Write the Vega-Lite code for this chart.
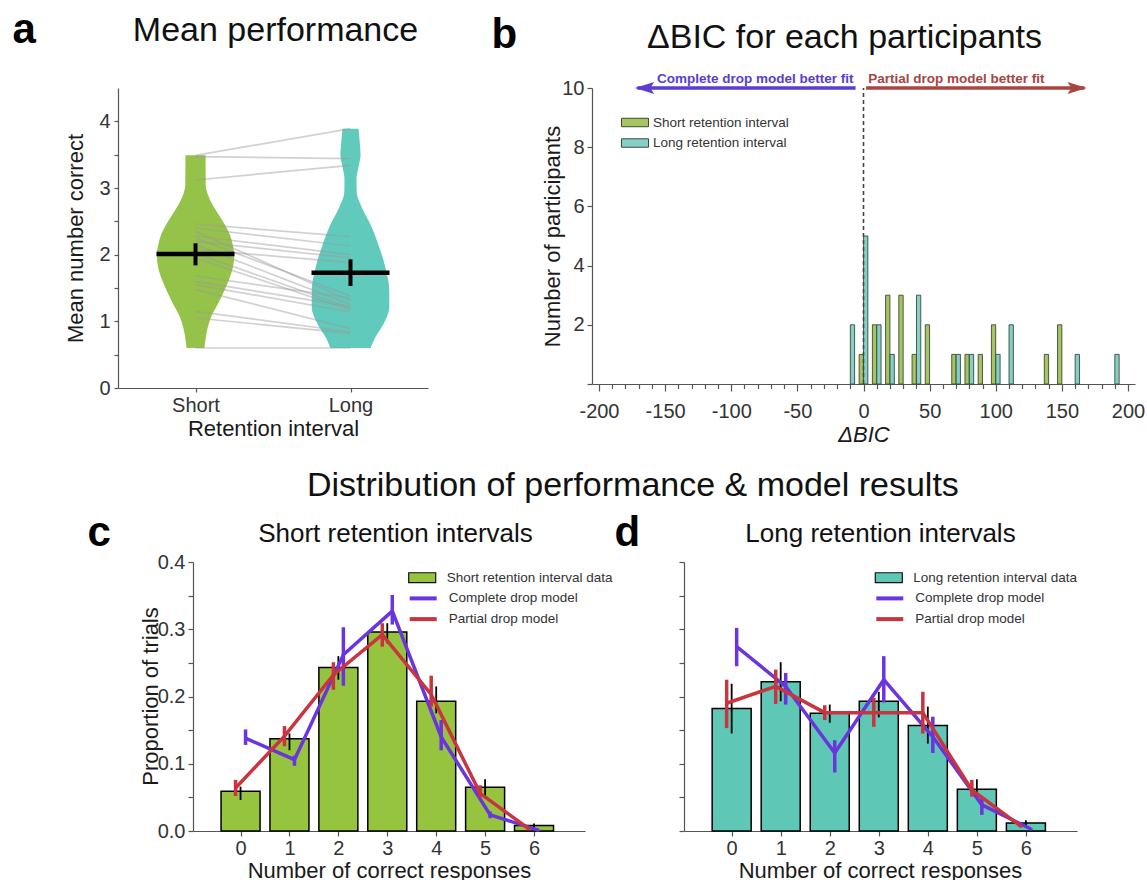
{
  "$schema": "https://vega.github.io/schema/vega-lite/v6.json",
  "background": "white",
  "padding": {"left": 12, "top": 8, "right": 5, "bottom": 5},
  "config": {
    "view": {"stroke": null},
    "font": "Liberation Sans",
    "axis": {"grid": false, "domainColor": "#555", "tickColor": "#555", "labelColor": "#333", "titleColor": "#1a1a1a", "labelFontSize": 20, "titleFontSize": 22, "titleFontWeight": "normal", "labelFont": "Liberation Sans", "titleFont": "Liberation Sans", "domainWidth": 1.2, "tickWidth": 1.2},
    "legend": {"labelFont": "Liberation Sans", "labelColor": "#333"},
    "title": {"font": "Liberation Sans", "fontWeight": "normal", "color": "#111"}
  },
  "datasets": {
    "violin": [
      {"g": "Short", "y": 0.6, "lo": -0.058, "hi": 0.058},
      {"g": "Short", "y": 0.81, "lo": -0.07, "hi": 0.07},
      {"g": "Short", "y": 1.06, "lo": -0.1, "hi": 0.1},
      {"g": "Short", "y": 1.31, "lo": -0.155, "hi": 0.155},
      {"g": "Short", "y": 1.56, "lo": -0.205, "hi": 0.205},
      {"g": "Short", "y": 1.8, "lo": -0.24, "hi": 0.24},
      {"g": "Short", "y": 2.0, "lo": -0.25, "hi": 0.25},
      {"g": "Short", "y": 2.15, "lo": -0.24, "hi": 0.24},
      {"g": "Short", "y": 2.3, "lo": -0.222, "hi": 0.222},
      {"g": "Short", "y": 2.45, "lo": -0.19, "hi": 0.19},
      {"g": "Short", "y": 2.6, "lo": -0.15, "hi": 0.15},
      {"g": "Short", "y": 2.75, "lo": -0.11, "hi": 0.11},
      {"g": "Short", "y": 2.9, "lo": -0.08, "hi": 0.08},
      {"g": "Short", "y": 3.05, "lo": -0.066, "hi": 0.066},
      {"g": "Short", "y": 3.49, "lo": -0.065, "hi": 0.065},
      {"g": "Long", "y": 0.6, "lo": 0.87, "hi": 1.13},
      {"g": "Long", "y": 0.76, "lo": 0.84, "hi": 1.16},
      {"g": "Long", "y": 0.96, "lo": 0.787, "hi": 1.213},
      {"g": "Long", "y": 1.21, "lo": 0.75, "hi": 1.25},
      {"g": "Long", "y": 1.46, "lo": 0.75, "hi": 1.25},
      {"g": "Long", "y": 1.8, "lo": 0.774, "hi": 1.226},
      {"g": "Long", "y": 2.15, "lo": 0.82, "hi": 1.18},
      {"g": "Long", "y": 2.45, "lo": 0.87, "hi": 1.13},
      {"g": "Long", "y": 2.69, "lo": 0.923, "hi": 1.077},
      {"g": "Long", "y": 2.94, "lo": 0.96, "hi": 1.04},
      {"g": "Long", "y": 3.14, "lo": 0.961, "hi": 1.039},
      {"g": "Long", "y": 3.3, "lo": 0.95, "hi": 1.05},
      {"g": "Long", "y": 3.49, "lo": 0.935, "hi": 1.065},
      {"g": "Long", "y": 3.73, "lo": 0.942, "hi": 1.058},
      {"g": "Long", "y": 3.89, "lo": 0.948, "hi": 1.052}
    ],
    "participants": [
      {"p": 1, "interval": 0, "value": 3.49}, {"p": 1, "interval": 1, "value": 3.89},
      {"p": 2, "interval": 0, "value": 3.47}, {"p": 2, "interval": 1, "value": 3.44},
      {"p": 3, "interval": 0, "value": 3.12}, {"p": 3, "interval": 1, "value": 3.34},
      {"p": 4, "interval": 0, "value": 2.46}, {"p": 4, "interval": 1, "value": 2.27},
      {"p": 5, "interval": 0, "value": 2.4}, {"p": 5, "interval": 1, "value": 2.13},
      {"p": 6, "interval": 0, "value": 2.35}, {"p": 6, "interval": 1, "value": 1.31},
      {"p": 7, "interval": 0, "value": 2.28}, {"p": 7, "interval": 1, "value": 2.0},
      {"p": 8, "interval": 0, "value": 2.25}, {"p": 8, "interval": 1, "value": 1.38},
      {"p": 9, "interval": 0, "value": 2.2}, {"p": 9, "interval": 1, "value": 1.95},
      {"p": 10, "interval": 0, "value": 2.15}, {"p": 10, "interval": 1, "value": 1.25},
      {"p": 11, "interval": 0, "value": 2.08}, {"p": 11, "interval": 1, "value": 1.88},
      {"p": 12, "interval": 0, "value": 2.02}, {"p": 12, "interval": 1, "value": 1.2},
      {"p": 13, "interval": 0, "value": 1.95}, {"p": 13, "interval": 1, "value": 1.17},
      {"p": 14, "interval": 0, "value": 1.68}, {"p": 14, "interval": 1, "value": 1.35},
      {"p": 15, "interval": 0, "value": 1.6}, {"p": 15, "interval": 1, "value": 1.22},
      {"p": 16, "interval": 0, "value": 1.55}, {"p": 16, "interval": 1, "value": 1.14},
      {"p": 17, "interval": 0, "value": 1.48}, {"p": 17, "interval": 1, "value": 0.89},
      {"p": 18, "interval": 0, "value": 1.15}, {"p": 18, "interval": 1, "value": 0.84},
      {"p": 19, "interval": 0, "value": 1.05}, {"p": 19, "interval": 1, "value": 0.82},
      {"p": 20, "interval": 0, "value": 0.6}, {"p": 20, "interval": 1, "value": 0.6}
    ],
    "means": [
      {"interval": 0, "mean": 2.01, "lo": 1.84, "hi": 2.17},
      {"interval": 1, "mean": 1.73, "lo": 1.53, "hi": 1.93}
    ],
    "bic": [
      {"g": "Short", "dbic": 0, "n": 1}, {"g": "Short", "dbic": 10, "n": 2}, {"g": "Short", "dbic": 20, "n": 3},
      {"g": "Short", "dbic": 30, "n": 3}, {"g": "Short", "dbic": 40, "n": 1}, {"g": "Short", "dbic": 50, "n": 2},
      {"g": "Short", "dbic": 70, "n": 1}, {"g": "Short", "dbic": 80, "n": 1}, {"g": "Short", "dbic": 90, "n": 1},
      {"g": "Short", "dbic": 100, "n": 2}, {"g": "Short", "dbic": 140, "n": 1}, {"g": "Short", "dbic": 150, "n": 2},
      {"g": "Long", "dbic": -10, "n": 2}, {"g": "Long", "dbic": 0, "n": 5}, {"g": "Long", "dbic": 10, "n": 2},
      {"g": "Long", "dbic": 20, "n": 1}, {"g": "Long", "dbic": 40, "n": 3}, {"g": "Long", "dbic": 70, "n": 1},
      {"g": "Long", "dbic": 80, "n": 1}, {"g": "Long", "dbic": 100, "n": 1}, {"g": "Long", "dbic": 110, "n": 2},
      {"g": "Long", "dbic": 160, "n": 1}, {"g": "Long", "dbic": 190, "n": 1}
    ],
    "arrows": [
      {"side": "complete", "start": -6, "tip": -171, "label": "Complete drop model better fit"},
      {"side": "partial", "start": 2, "tip": 167, "label": "Partial drop model better fit"}
    ],
    "dist": [
      {"panel": "short", "series": "data", "k": 0, "val": 0.059, "lo": 0.046, "hi": 0.066},
      {"panel": "short", "series": "data", "k": 1, "val": 0.137, "lo": 0.12, "hi": 0.145},
      {"panel": "short", "series": "data", "k": 2, "val": 0.243, "lo": 0.225, "hi": 0.26},
      {"panel": "short", "series": "data", "k": 3, "val": 0.296, "lo": 0.279, "hi": 0.309},
      {"panel": "short", "series": "data", "k": 4, "val": 0.193, "lo": 0.175, "hi": 0.215},
      {"panel": "short", "series": "data", "k": 5, "val": 0.065, "lo": 0.051, "hi": 0.077},
      {"panel": "short", "series": "data", "k": 6, "val": 0.008, "lo": 0.005, "hi": 0.011},
      {"panel": "short", "series": "Complete drop model", "k": 0, "val": 0.138, "lo": 0.128, "hi": 0.151},
      {"panel": "short", "series": "Complete drop model", "k": 1, "val": 0.106, "lo": 0.097, "hi": 0.112},
      {"panel": "short", "series": "Complete drop model", "k": 2, "val": 0.262, "lo": 0.216, "hi": 0.303},
      {"panel": "short", "series": "Complete drop model", "k": 3, "val": 0.327, "lo": 0.307, "hi": 0.351},
      {"panel": "short", "series": "Complete drop model", "k": 4, "val": 0.14, "lo": 0.12, "hi": 0.165},
      {"panel": "short", "series": "Complete drop model", "k": 5, "val": 0.024, "lo": 0.019, "hi": 0.029},
      {"panel": "short", "series": "Complete drop model", "k": 6, "val": 0.001, "lo": 0.0, "hi": 0.002},
      {"panel": "short", "series": "Partial drop model", "k": 0, "val": 0.064, "lo": 0.052, "hi": 0.076},
      {"panel": "short", "series": "Partial drop model", "k": 1, "val": 0.141, "lo": 0.126, "hi": 0.156},
      {"panel": "short", "series": "Partial drop model", "k": 2, "val": 0.232, "lo": 0.21, "hi": 0.251},
      {"panel": "short", "series": "Partial drop model", "k": 3, "val": 0.292, "lo": 0.274, "hi": 0.309},
      {"panel": "short", "series": "Partial drop model", "k": 4, "val": 0.203, "lo": 0.185, "hi": 0.231},
      {"panel": "short", "series": "Partial drop model", "k": 5, "val": 0.056, "lo": 0.05, "hi": 0.068},
      {"panel": "short", "series": "Partial drop model", "k": 6, "val": 0.003, "lo": 0.001, "hi": 0.004},
      {"panel": "long", "series": "data", "k": 0, "val": 0.182, "lo": 0.145, "hi": 0.219},
      {"panel": "long", "series": "data", "k": 1, "val": 0.222, "lo": 0.193, "hi": 0.251},
      {"panel": "long", "series": "data", "k": 2, "val": 0.175, "lo": 0.161, "hi": 0.188},
      {"panel": "long", "series": "data", "k": 3, "val": 0.193, "lo": 0.169, "hi": 0.207},
      {"panel": "long", "series": "data", "k": 4, "val": 0.157, "lo": 0.13, "hi": 0.185},
      {"panel": "long", "series": "data", "k": 5, "val": 0.062, "lo": 0.046, "hi": 0.077},
      {"panel": "long", "series": "data", "k": 6, "val": 0.012, "lo": 0.007, "hi": 0.016},
      {"panel": "long", "series": "Complete drop model", "k": 0, "val": 0.274, "lo": 0.245, "hi": 0.302},
      {"panel": "long", "series": "Complete drop model", "k": 1, "val": 0.215, "lo": 0.188, "hi": 0.235},
      {"panel": "long", "series": "Complete drop model", "k": 2, "val": 0.116, "lo": 0.087, "hi": 0.135},
      {"panel": "long", "series": "Complete drop model", "k": 3, "val": 0.225, "lo": 0.191, "hi": 0.26},
      {"panel": "long", "series": "Complete drop model", "k": 4, "val": 0.14, "lo": 0.116, "hi": 0.17},
      {"panel": "long", "series": "Complete drop model", "k": 5, "val": 0.039, "lo": 0.024, "hi": 0.049},
      {"panel": "long", "series": "Complete drop model", "k": 6, "val": 0.003, "lo": 0.001, "hi": 0.004},
      {"panel": "long", "series": "Partial drop model", "k": 0, "val": 0.19, "lo": 0.153, "hi": 0.225},
      {"panel": "long", "series": "Partial drop model", "k": 1, "val": 0.215, "lo": 0.189, "hi": 0.24},
      {"panel": "long", "series": "Partial drop model", "k": 2, "val": 0.176, "lo": 0.165, "hi": 0.187},
      {"panel": "long", "series": "Partial drop model", "k": 3, "val": 0.176, "lo": 0.155, "hi": 0.198},
      {"panel": "long", "series": "Partial drop model", "k": 4, "val": 0.176, "lo": 0.145, "hi": 0.207},
      {"panel": "long", "series": "Partial drop model", "k": 5, "val": 0.061, "lo": 0.051, "hi": 0.076},
      {"panel": "long", "series": "Partial drop model", "k": 6, "val": 0.007, "lo": 0.005, "hi": 0.009}
    ]
  },
  "resolve": {"scale": {"color": "independent", "fill": "independent", "stroke": "independent"}, "legend": {"color": "independent", "fill": "independent", "stroke": "independent"}},
  "columns": 1,
  "align": "none",
  "spacing": 24,
  "concat": [
    {
      "spacing": 63,
      "resolve": {"scale": {"color": "independent", "fill": "independent", "stroke": "independent"}, "legend": {"color": "independent", "fill": "independent", "stroke": "independent"}},
      "hconcat": [
        {
          "width": 310,
          "height": 300,
          "layer": [
            {
              "data": {"name": "violin"},
              "mark": {"type": "area", "orient": "horizontal", "interpolate": "monotone"},
              "encoding": {
                "y": {"field": "y", "type": "quantitative", "scale": {"domain": [0, 4.5], "nice": false},
                  "axis": {"orient": "left", "values": [0, 0.5, 1, 1.5, 2, 2.5, 3, 3.5, 4], "labelExpr": "datum.value % 1 === 0 ? format(datum.value, 'd') : ''", "tickSize": 4, "labelPadding": 4, "title": "Mean number correct", "titleX": -43, "titleY": 150, "titleAngle": -90, "titleAlign": "center", "titleBaseline": "middle"}},
                "x": {"field": "lo", "type": "quantitative", "scale": {"domain": [-0.5, 1.5], "nice": false, "zero": false},
                  "axis": {"orient": "bottom", "values": [0, 1], "labelExpr": "datum.value === 0 ? 'Short' : 'Long'", "tickSize": 4, "labelPadding": 3, "title": "Retention interval", "titleX": 155, "titleY": 40, "titleAlign": "center", "titleBaseline": "middle"}},
                "x2": {"field": "hi"},
                "color": {"field": "g", "type": "nominal", "scale": {"domain": ["Short", "Long"], "range": ["#95c34a", "#60cbbc"]}, "legend": null}
              }
            },
            {
              "data": {"name": "participants"},
              "mark": {"type": "line", "color": "#999999", "opacity": 0.45, "strokeWidth": 1.7},
              "encoding": {
                "x": {"field": "interval", "type": "quantitative",
                  "axis": {"orient": "top", "labels": false, "ticks": false, "domain": false, "title": "Mean performance", "titleFontSize": 34, "titleColor": "#111", "titleX": 157, "titleY": -48, "titleAlign": "center", "titleBaseline": "alphabetic", "minExtent": 0, "maxExtent": 0}},
                "y": {"field": "value", "type": "quantitative",
                  "axis": {"orient": "right", "labels": false, "ticks": false, "domain": false, "title": "a", "titleFontSize": 42, "titleFontWeight": "bold", "titleColor": "#000", "titleAngle": 0, "titleX": -416, "titleY": -46, "titleAlign": "left", "titleBaseline": "alphabetic", "minExtent": 0, "maxExtent": 0}},
                "detail": {"field": "p", "type": "nominal"}
              }
            },
            {
              "data": {"name": "means"},
              "mark": {"type": "tick", "orient": "horizontal", "size": 78, "thickness": 4.5, "color": "#000", "opacity": 1},
              "encoding": {
                "x": {"field": "interval", "type": "quantitative", "axis": null},
                "y": {"field": "mean", "type": "quantitative", "axis": null}
              }
            },
            {
              "data": {"name": "means"},
              "mark": {"type": "rule", "strokeWidth": 4, "color": "#000"},
              "encoding": {
                "x": {"field": "interval", "type": "quantitative", "axis": null},
                "y": {"field": "lo", "type": "quantitative", "axis": null},
                "y2": {"field": "hi"}
              }
            }
          ]
        },
        {
          "width": 543,
          "height": 296,
          "layer": [
            {
              "data": {"name": "bic"},
              "transform": [{"filter": "datum.g === 'Short'"}],
              "mark": {"type": "bar", "width": 4.3, "xOffset": -2.2, "stroke": "#3c4a3c", "strokeWidth": 0.9},
              "encoding": {
                "x": {"field": "dbic", "type": "quantitative", "scale": {"domain": [-201.5, 201.5], "nice": false, "zero": false},
                  "axis": {"orient": "bottom", "values": [-200, -190, -180, -170, -160, -150, -140, -130, -120, -110, -100, -90, -80, -70, -60, -50, -40, -30, -20, -10, 0, 10, 20, 30, 40, 50, 60, 70, 80, 90, 100, 110, 120, 130, 140, 150, 160, 170, 180, 190, 200],
                    "labelExpr": "datum.value % 50 === 0 ? toString(datum.value) : ''", "labelOverlap": false,
                    "tickSize": {"condition": {"test": "datum.value % 50 === 0", "value": 7}, "value": 4.5},
                    "labelPadding": 10, "title": "ΔBIC", "titleFontStyle": "italic", "titleX": 271.5, "titleY": 50, "titleAlign": "center", "titleBaseline": "middle"}},
                "y": {"field": "n", "type": "quantitative", "stack": null, "scale": {"domain": [0, 10], "nice": false},
                  "axis": {"orient": "left", "values": [0, 2, 4, 6, 8, 10], "labelExpr": "datum.value === 0 ? '' : datum.label", "tickSize": 5, "labelPadding": 3, "title": "Number of participants", "titleX": -40, "titleY": 148, "titleAngle": -90, "titleAlign": "center", "titleBaseline": "middle"}},
                "color": {"datum": "Short retention interval", "type": "nominal",
                  "scale": {"domain": ["Short retention interval", "Long retention interval"], "range": ["#a6c55f", "#84d0c7"]},
                  "legend": {"orient": "none", "legendX": 33.5, "legendY": 25, "title": null, "padding": 0, "symbolSize": 324, "symbolType": "M-1.5,-0.47H1.5V0.47H-1.5Z", "symbolStrokeColor": "#333", "symbolStrokeWidth": 1, "symbolOpacity": 1, "labelOffset": 8.5, "rowPadding": 4.5, "labelFontSize": 13.5, "labelLimit": 400}}
              }
            },
            {
              "data": {"name": "bic"},
              "transform": [{"filter": "datum.g === 'Long'"}],
              "mark": {"type": "bar", "width": 4.3, "xOffset": 2.2, "stroke": "#3c4a3c", "strokeWidth": 0.9},
              "encoding": {
                "x": {"field": "dbic", "type": "quantitative",
                  "axis": {"orient": "top", "labels": false, "ticks": false, "domain": false, "title": "ΔBIC for each participants", "titleFontSize": 34, "titleColor": "#111", "titleX": 252, "titleY": -41, "titleAlign": "center", "titleBaseline": "alphabetic", "minExtent": 0, "maxExtent": 0}},
                "y": {"field": "n", "type": "quantitative", "stack": null,
                  "axis": {"orient": "right", "labels": false, "ticks": false, "domain": false, "title": "b", "titleFontSize": 42, "titleFontWeight": "bold", "titleColor": "#000", "titleAngle": 0, "titleX": -644, "titleY": -41, "titleAlign": "left", "titleBaseline": "alphabetic", "minExtent": 0, "maxExtent": 0}},
                "color": {"datum": "Long retention interval", "type": "nominal"}
              }
            },
            {
              "data": {"values": [{"ref": 0}]},
              "mark": {"type": "rule", "strokeDash": [4, 3], "color": "#444", "strokeWidth": 1.6},
              "encoding": {
                "x": {"field": "ref", "type": "quantitative", "axis": null},
                "y": {"datum": 0, "type": "quantitative", "axis": null},
                "y2": {"datum": 10}
              }
            },
            {
              "data": {"name": "arrows"},
              "transform": [{"filter": "datum.side === 'complete'"}],
              "mark": {"type": "rule", "color": "#5b3dcf", "strokeWidth": 3.5},
              "encoding": {
                "x": {"field": "start", "type": "quantitative", "axis": null},
                "x2": {"field": "tip"},
                "y": {"datum": 10, "type": "quantitative", "axis": null}
              }
            },
            {
              "data": {"name": "arrows"},
              "transform": [{"filter": "datum.side === 'partial'"}],
              "mark": {"type": "rule", "color": "#a8453f", "strokeWidth": 3.5},
              "encoding": {
                "x": {"field": "start", "type": "quantitative", "axis": null},
                "x2": {"field": "tip"},
                "y": {"datum": 10, "type": "quantitative", "axis": null}
              }
            },
            {
              "data": {"name": "arrows"},
              "transform": [{"filter": "datum.side === 'complete'"}],
              "mark": {"type": "point", "shape": "M-0.3,0L2,-0.7L1.5,0L2,0.7Z", "size": 289, "filled": true, "color": "#5b3dcf", "opacity": 1, "strokeWidth": 0},
              "encoding": {
                "x": {"field": "tip", "type": "quantitative", "axis": null},
                "y": {"datum": 10, "type": "quantitative", "axis": null}
              }
            },
            {
              "data": {"name": "arrows"},
              "transform": [{"filter": "datum.side === 'partial'"}],
              "mark": {"type": "point", "shape": "M0.3,0L-2,-0.7L-1.5,0L-2,0.7Z", "size": 289, "filled": true, "color": "#a8453f", "opacity": 1, "strokeWidth": 0},
              "encoding": {
                "x": {"field": "tip", "type": "quantitative", "axis": null},
                "y": {"datum": 10, "type": "quantitative", "axis": null}
              }
            },
            {
              "data": {"name": "arrows"},
              "transform": [{"filter": "datum.side === 'complete'"}],
              "mark": {"type": "text", "align": "right", "baseline": "alphabetic", "dx": -2, "dy": -5, "fontSize": 13.5, "fontWeight": "bold", "color": "#5a3dd0"},
              "encoding": {
                "x": {"field": "start", "type": "quantitative", "axis": null},
                "y": {"datum": 10, "type": "quantitative", "axis": null},
                "text": {"field": "label"}
              }
            },
            {
              "data": {"name": "arrows"},
              "transform": [{"filter": "datum.side === 'partial'"}],
              "mark": {"type": "text", "align": "left", "baseline": "alphabetic", "dx": 2, "dy": -5, "fontSize": 13.5, "fontWeight": "bold", "color": "#a8453f"},
              "encoding": {
                "x": {"field": "start", "type": "quantitative", "axis": null},
                "y": {"datum": 10, "type": "quantitative", "axis": null},
                "text": {"field": "label"}
              }
            }
          ]
        }
      ]
    },
    {
      "spacing": 0,
      "resolve": {"scale": {"color": "independent", "fill": "independent", "stroke": "independent"}, "legend": {"color": "independent", "fill": "independent", "stroke": "independent"}},
      "title": {"text": "Distribution of performance & model results", "fontSize": 34, "anchor": "middle", "frame": "bounds", "dx": 88, "offset": -19, "baseline": "alphabetic", "fontWeight": "normal", "color": "#111"},
      "hconcat": [
        {
          "width": 392,
          "height": 269,
          "data": {"name": "dist"},
          "transform": [{"filter": "datum.panel === 'short'"}],
          "layer": [
            {
              "transform": [{"filter": "datum.series === 'data'"}],
              "mark": {"type": "bar", "width": 39, "stroke": "#000", "strokeWidth": 1.5},
              "encoding": {
                "x": {"field": "k", "type": "quantitative", "scale": {"domain": [-0.87, 6.94], "range": [75, 467], "nice": false, "zero": false},
                  "axis": {"orient": "bottom", "values": [0, 1, 2, 3, 4, 5, 6], "format": "d", "tickSize": 5, "labelPadding": 2, "title": "Number of correct responses", "titleX": 271, "titleY": 39, "titleAlign": "center", "titleBaseline": "middle"}},
                "y": {"field": "val", "type": "quantitative", "stack": null, "scale": {"domain": [0, 0.4], "nice": false},
                  "axis": {"orient": "left", "offset": -75, "values": [0, 0.05, 0.1, 0.15, 0.2, 0.25, 0.3, 0.35, 0.4], "labelExpr": "round(datum.value * 100) % 10 === 0 ? format(datum.value, '.1f') : ''", "tickSize": 5, "labelPadding": 3, "minExtent": 181, "maxExtent": 181, "title": "Proportion of trials", "titleX": -43, "titleY": 134, "titleAngle": -90, "titleAlign": "center", "titleBaseline": "middle"}},
                "fill": {"datum": "Short retention interval data", "type": "nominal",
                  "scale": {"domain": ["Short retention interval data"], "range": ["#97c43f"]},
                  "legend": {"orient": "none", "legendX": 294.2, "legendY": 5.7, "title": null, "padding": 0, "symbolSize": 324, "symbolType": "M-1.5,-0.55H1.5V0.55H-1.5Z", "symbolStrokeColor": "#111", "symbolStrokeWidth": 1.2, "symbolOpacity": 1, "labelOffset": 14.5, "labelFontSize": 13.5, "labelLimit": 400}}
              }
            },
            {
              "transform": [{"filter": "datum.series === 'data'"}],
              "mark": {"type": "rule", "color": "#000", "strokeWidth": 1.8},
              "encoding": {
                "x": {"field": "k", "type": "quantitative",
                  "axis": {"orient": "top", "labels": false, "ticks": false, "domain": false, "title": "Short retention intervals", "titleFontSize": 26, "titleColor": "#111", "titleX": 277, "titleY": -21, "titleAlign": "center", "titleBaseline": "alphabetic", "minExtent": 0, "maxExtent": 0}},
                "y": {"field": "lo", "type": "quantitative",
                  "axis": {"orient": "right", "labels": false, "ticks": false, "domain": false, "title": "c", "titleFontSize": 42, "titleFontWeight": "bold", "titleColor": "#000", "titleAngle": 0, "titleX": -423, "titleY": -17, "titleAlign": "left", "titleBaseline": "alphabetic", "minExtent": 0, "maxExtent": 0}},
                "y2": {"field": "hi"}
              }
            },
            {
              "transform": [{"filter": "datum.series === 'Complete drop model'"}],
              "mark": {"type": "line", "strokeWidth": 3.5, "xOffset": 5},
              "encoding": {
                "x": {"field": "k", "type": "quantitative", "axis": null},
                "y": {"field": "val", "type": "quantitative", "axis": null},
                "stroke": {"field": "series", "type": "nominal", "title": null,
                  "scale": {"domain": ["Complete drop model", "Partial drop model"], "range": ["#6a35dc", "#c9343f"]},
                  "legend": {"orient": "none", "legendX": 294.2, "legendY": 25.4, "title": null, "padding": 0, "symbolSize": 324, "symbolType": "M-1.5,0H1.5", "symbolStrokeWidth": 4, "symbolFillColor": "transparent", "symbolOpacity": 1, "labelOffset": 14.5, "rowPadding": 1.7, "labelFontSize": 13.5, "labelLimit": 400}}
              }
            },
            {
              "transform": [{"filter": "datum.series === 'Complete drop model'"}],
              "mark": {"type": "rule", "strokeWidth": 3.5, "xOffset": 5, "color": "#6a35dc"},
              "encoding": {
                "x": {"field": "k", "type": "quantitative", "axis": null},
                "y": {"field": "lo", "type": "quantitative", "axis": null},
                "y2": {"field": "hi"}
              }
            },
            {
              "transform": [{"filter": "datum.series === 'Partial drop model'"}],
              "mark": {"type": "line", "strokeWidth": 3.5, "xOffset": -5},
              "encoding": {
                "x": {"field": "k", "type": "quantitative", "axis": null},
                "y": {"field": "val", "type": "quantitative", "axis": null},
                "stroke": {"field": "series", "type": "nominal", "title": null,
                  "legend": {"orient": "none", "legendX": 294.2, "legendY": 25.4, "title": null, "padding": 0, "symbolSize": 324, "symbolType": "M-1.5,0H1.5", "symbolStrokeWidth": 4, "symbolFillColor": "transparent", "symbolOpacity": 1, "labelOffset": 14.5, "rowPadding": 1.7, "labelFontSize": 13.5, "labelLimit": 400}}
              }
            },
            {
              "transform": [{"filter": "datum.series === 'Partial drop model'"}],
              "mark": {"type": "rule", "strokeWidth": 3.5, "xOffset": -5, "color": "#c9343f"},
              "encoding": {
                "x": {"field": "k", "type": "quantitative", "axis": null},
                "y": {"field": "lo", "type": "quantitative", "axis": null},
                "y2": {"field": "hi"}
              }
            }
          ]
        },
        {
          "width": 393,
          "height": 269,
          "data": {"name": "dist"},
          "transform": [{"filter": "datum.panel === 'long'"}],
          "layer": [
            {
              "transform": [{"filter": "datum.series === 'data'"}],
              "mark": {"type": "bar", "width": 39, "stroke": "#000", "strokeWidth": 1.5},
              "encoding": {
                "x": {"field": "k", "type": "quantitative", "scale": {"domain": [-0.87, 6.94], "nice": false, "zero": false},
                  "axis": {"orient": "bottom", "values": [0, 1, 2, 3, 4, 5, 6], "format": "d", "tickSize": 5, "labelPadding": 2, "title": "Number of correct responses", "titleX": 196, "titleY": 39, "titleAlign": "center", "titleBaseline": "middle"}},
                "y": {"field": "val", "type": "quantitative", "stack": null, "scale": {"domain": [0, 0.4], "nice": false},
                  "axis": {"orient": "left", "values": [0, 0.05, 0.1, 0.15, 0.2, 0.25, 0.3, 0.35, 0.4], "labels": false, "tickSize": 5, "title": null, "minExtent": 0, "maxExtent": 10}},
                "fill": {"datum": "Long retention interval data", "type": "nominal",
                  "scale": {"domain": ["Long retention interval data"], "range": ["#5ec7b6"]},
                  "legend": {"orient": "none", "legendX": 194.8, "legendY": 5.7, "title": null, "padding": 0, "symbolSize": 324, "symbolType": "M-1.5,-0.55H1.5V0.55H-1.5Z", "symbolStrokeColor": "#111", "symbolStrokeWidth": 1.2, "symbolOpacity": 1, "labelOffset": 14.5, "labelFontSize": 13.5, "labelLimit": 400}}
              }
            },
            {
              "transform": [{"filter": "datum.series === 'data'"}],
              "mark": {"type": "rule", "color": "#000", "strokeWidth": 1.8},
              "encoding": {
                "x": {"field": "k", "type": "quantitative",
                  "axis": {"orient": "top", "labels": false, "ticks": false, "domain": false, "title": "Long retention intervals", "titleFontSize": 26, "titleColor": "#111", "titleX": 196, "titleY": -21, "titleAlign": "center", "titleBaseline": "alphabetic", "minExtent": 0, "maxExtent": 0}},
                "y": {"field": "lo", "type": "quantitative",
                  "axis": {"orient": "right", "labels": false, "ticks": false, "domain": false, "title": "d", "titleFontSize": 42, "titleFontWeight": "bold", "titleColor": "#000", "titleAngle": 0, "titleX": -463, "titleY": -17, "titleAlign": "left", "titleBaseline": "alphabetic", "minExtent": 0, "maxExtent": 0}},
                "y2": {"field": "hi"}
              }
            },
            {
              "transform": [{"filter": "datum.series === 'Complete drop model'"}],
              "mark": {"type": "line", "strokeWidth": 3.5, "xOffset": 5},
              "encoding": {
                "x": {"field": "k", "type": "quantitative", "axis": null},
                "y": {"field": "val", "type": "quantitative", "axis": null},
                "stroke": {"field": "series", "type": "nominal", "title": null,
                  "scale": {"domain": ["Complete drop model", "Partial drop model"], "range": ["#6a35dc", "#c9343f"]},
                  "legend": {"orient": "none", "legendX": 194.8, "legendY": 25.4, "title": null, "padding": 0, "symbolSize": 324, "symbolType": "M-1.5,0H1.5", "symbolStrokeWidth": 4, "symbolFillColor": "transparent", "symbolOpacity": 1, "labelOffset": 14.5, "rowPadding": 1.7, "labelFontSize": 13.5, "labelLimit": 400}}
              }
            },
            {
              "transform": [{"filter": "datum.series === 'Complete drop model'"}],
              "mark": {"type": "rule", "strokeWidth": 3.5, "xOffset": 5, "color": "#6a35dc"},
              "encoding": {
                "x": {"field": "k", "type": "quantitative", "axis": null},
                "y": {"field": "lo", "type": "quantitative", "axis": null},
                "y2": {"field": "hi"}
              }
            },
            {
              "transform": [{"filter": "datum.series === 'Partial drop model'"}],
              "mark": {"type": "line", "strokeWidth": 3.5, "xOffset": -5},
              "encoding": {
                "x": {"field": "k", "type": "quantitative", "axis": null},
                "y": {"field": "val", "type": "quantitative", "axis": null},
                "stroke": {"field": "series", "type": "nominal", "title": null,
                  "legend": {"orient": "none", "legendX": 194.8, "legendY": 25.4, "title": null, "padding": 0, "symbolSize": 324, "symbolType": "M-1.5,0H1.5", "symbolStrokeWidth": 4, "symbolFillColor": "transparent", "symbolOpacity": 1, "labelOffset": 14.5, "rowPadding": 1.7, "labelFontSize": 13.5, "labelLimit": 400}}
              }
            },
            {
              "transform": [{"filter": "datum.series === 'Partial drop model'"}],
              "mark": {"type": "rule", "strokeWidth": 3.5, "xOffset": -5, "color": "#c9343f"},
              "encoding": {
                "x": {"field": "k", "type": "quantitative", "axis": null},
                "y": {"field": "lo", "type": "quantitative", "axis": null},
                "y2": {"field": "hi"}
              }
            }
          ]
        }
      ]
    }
  ]
}
